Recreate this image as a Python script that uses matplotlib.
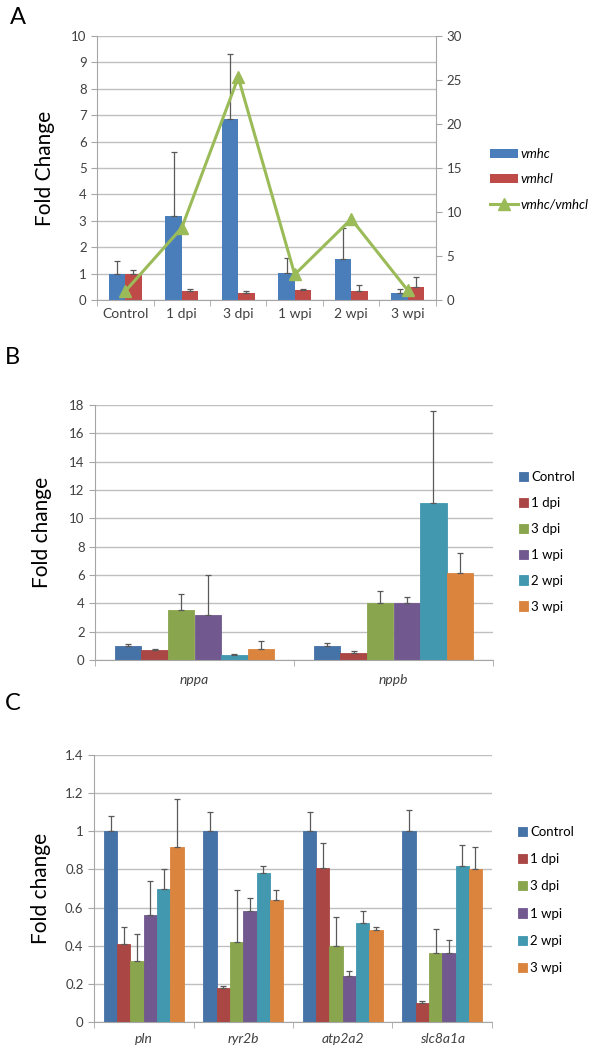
"""
Cardiac gene expression after injury: three stacked Excel-style bar panels.
Output: out.png
"""

import matplotlib.pyplot as plt
import numpy as np

plt.rcParams['font.family'] = ['Lato', 'DejaVu Sans']

# ---- panel A ----
A_LABELS   = ["Control", "1 dpi", "3 dpi", "1 wpi", "2 wpi", "3 wpi"]
VMHC       = [1.0, 3.2, 6.85, 1.03, 1.57, 0.25]
VMHC_ERR   = [0.48, 2.4, 2.47, 0.55, 1.15, 0.17]
VMHCL      = [1.0, 0.33, 0.25, 0.38, 0.33, 0.49]
VMHCL_ERR  = [0.15, 0.07, 0.1, 0.05, 0.22, 0.39]
RATIO      = [1.0, 8.2, 25.3, 2.9, 9.2, 1.1]

# ---- panel B ----
B_GENES    = ["nppa", "nppb"]
TIMEPOINTS = ["Control", "1 dpi", "3 dpi", "1 wpi", "2 wpi", "3 wpi"]
B_VALS = [[1.0, 0.72, 3.55, 3.2, 0.35, 0.75],
          [1.0, 0.47, 4.0, 4.0, 11.06, 6.16]]
B_ERR  = [[0.15, 0.04, 1.1, 2.8, 0.07, 0.6],
          [0.22, 0.17, 0.87, 0.42, 6.54, 1.42]]

# ---- panel C ----
C_GENES = ["pln", "ryr2b", "atp2a2", "slc8a1a"]
C_VALS = [[1.0, 0.41, 0.32, 0.56, 0.70, 0.92],
          [1.0, 0.18, 0.42, 0.58, 0.78, 0.64],
          [1.0, 0.81, 0.40, 0.24, 0.52, 0.48],
          [1.0, 0.10, 0.36, 0.36, 0.82, 0.80]]
C_ERR  = [[0.08, 0.09, 0.14, 0.18, 0.10, 0.25],
          [0.10, 0.01, 0.27, 0.07, 0.04, 0.05],
          [0.10, 0.13, 0.15, 0.03, 0.06, 0.02],
          [0.11, 0.01, 0.13, 0.07, 0.11, 0.12]]

SERIES_COLORS = ["#4572A7", "#AA4643", "#89A54E", "#71588F", "#4198AF", "#DB843D"]
GRID_C  = "#BFBFBF"
AXIS_C  = "#A6A6A6"
ERR_C   = "#595959"
TXT_C   = "#404040"
TICK_FS = 9.5


def style_axis(ax, ymax, ystep, ncat):
    ax.set_xlim(0, ncat)
    ax.set_ylim(0, ymax)
    ax.set_yticks(np.arange(0, ymax + ystep / 2, ystep))
    ax.yaxis.grid(True, color=GRID_C, linewidth=1.0)
    ax.set_axisbelow(True)
    for s in ["top", "right"]:
        ax.spines[s].set_visible(False)
    for s in ["left", "bottom"]:
        ax.spines[s].set_color(AXIS_C)
    ax.tick_params(axis='y', colors=AXIS_C, labelcolor=TXT_C, labelsize=TICK_FS,
                   length=4, direction='out')
    # category boundary ticks on x
    ax.set_xticks(np.arange(0, ncat + 1), minor=True)
    ax.set_xticks(np.arange(ncat) + 0.5)
    ax.tick_params(axis='x', which='major', length=0, labelcolor=TXT_C)
    ax.tick_params(axis='x', which='minor', length=4, colors=AXIS_C)


def grouped(ax, vals, errs, width):
    ncat = len(vals)
    nser = len(vals[0])
    centers = np.arange(ncat) + 0.5
    for j in range(nser):
        x = centers - width * nser / 2 + width * (j + 0.5)
        v = [vals[i][j] for i in range(ncat)]
        e = [errs[i][j] for i in range(ncat)]
        ax.bar(x, v, width, color=SERIES_COLORS[j], edgecolor=SERIES_COLORS[j],
               linewidth=0.6, label=TIMEPOINTS[j], zorder=2)
        ax.errorbar(x, v, yerr=[np.zeros(ncat), e], fmt='none', ecolor=ERR_C,
                    elinewidth=0.9, capsize=2.5, capthick=0.9, zorder=3)


fig = plt.figure(figsize=(5.92, 10.5), dpi=100)

# ================= A =================
axA = fig.add_axes([97 / 592, 1 - 300 / 1050, 339 / 592, 264 / 1050])
style_axis(axA, 10, 1, 6)
axA.set_xticklabels(A_LABELS, fontsize=10)
axA.tick_params(axis='x', which='major', pad=6)
xa = np.arange(6) + 0.5
bw = 0.29
axA.bar(xa - bw / 2, VMHC, bw, color="#4A7EBB", label="vmhc", zorder=2)
axA.bar(xa + bw / 2, VMHCL, bw, color="#BE4B48", label="vmhcl", zorder=2)
axA.errorbar(xa - bw / 2, VMHC, yerr=[np.zeros(6), VMHC_ERR], fmt='none',
             ecolor=ERR_C, elinewidth=0.9, capsize=2.5, capthick=0.9, zorder=3)
axA.errorbar(xa + bw / 2, VMHCL, yerr=[np.zeros(6), VMHCL_ERR], fmt='none',
             ecolor=ERR_C, elinewidth=0.9, capsize=2.5, capthick=0.9, zorder=3)
axA.set_ylabel("Fold Change", fontsize=15, color="black", labelpad=12)

axA2 = axA.twinx()
axA2.set_ylim(0, 30)
axA2.set_yticks(np.arange(0, 31, 5))
for s in ["top", "left", "bottom"]:
    axA2.spines[s].set_visible(False)
axA2.spines["right"].set_color(AXIS_C)
axA2.tick_params(axis='y', colors=AXIS_C, labelcolor=TXT_C, labelsize=TICK_FS,
                 length=4, direction='out')
axA2.plot(xa, RATIO, color="#9BBB59", linewidth=2.2, marker='^', markersize=9,
          label="vmhc/vmhcl", zorder=4)

h1, l1 = axA.get_legend_handles_labels()
h2, l2 = axA2.get_legend_handles_labels()
fig.legend(h1 + h2, l1 + l2, loc='center left',
           bbox_to_anchor=(478 / 592, 1 - 179 / 1050), frameon=False,
           prop={'style': 'italic', 'size': 9.5}, handlelength=2.1,
           handletextpad=0.2, labelspacing=1.0)
fig.text(10 / 592, 1 - 18 / 1050, "A", fontsize=17, va='center', ha='left')

# ================= B =================
axB = fig.add_axes([95 / 592, 1 - 660 / 1050, 398 / 592, 255 / 1050])
style_axis(axB, 18, 2, 2)
axB.set_xticklabels(B_GENES, fontsize=10, style='italic')
axB.tick_params(axis='x', which='major', pad=10)
grouped(axB, B_VALS, B_ERR, 0.8 / 6)
axB.set_ylabel("Fold change", fontsize=15, labelpad=12)
axB.legend(loc='center left', bbox_to_anchor=(1.035, 0.463), frameon=False,
           fontsize=9.5, handlelength=0.7, handleheight=0.7,
           handletextpad=0.25, labelspacing=1.05)
fig.text(5 / 592, 1 - 358 / 1050, "B", fontsize=17, va='center', ha='left')

# ================= C =================
axC = fig.add_axes([94 / 592, 1 - 1022 / 1050, 398 / 592, 267 / 1050])
style_axis(axC, 1.4, 0.2, 4)
axC.set_yticklabels(["0", "0.2", "0.4", "0.6", "0.8", "1", "1.2", "1.4"])
axC.set_xticklabels(C_GENES, fontsize=10, style='italic')
axC.tick_params(axis='x', which='major', pad=8)
grouped(axC, C_VALS, C_ERR, 0.8 / 6)
axC.set_ylabel("Fold change", fontsize=15, labelpad=10)
axC.legend(loc='center left', bbox_to_anchor=(1.035, 0.457), frameon=False,
           fontsize=9.5, handlelength=0.7, handleheight=0.7,
           handletextpad=0.25, labelspacing=1.15)
fig.text(5 / 592, 1 - 703 / 1050, "C", fontsize=17, va='center', ha='left')

fig.savefig("out.png", dpi=100)
